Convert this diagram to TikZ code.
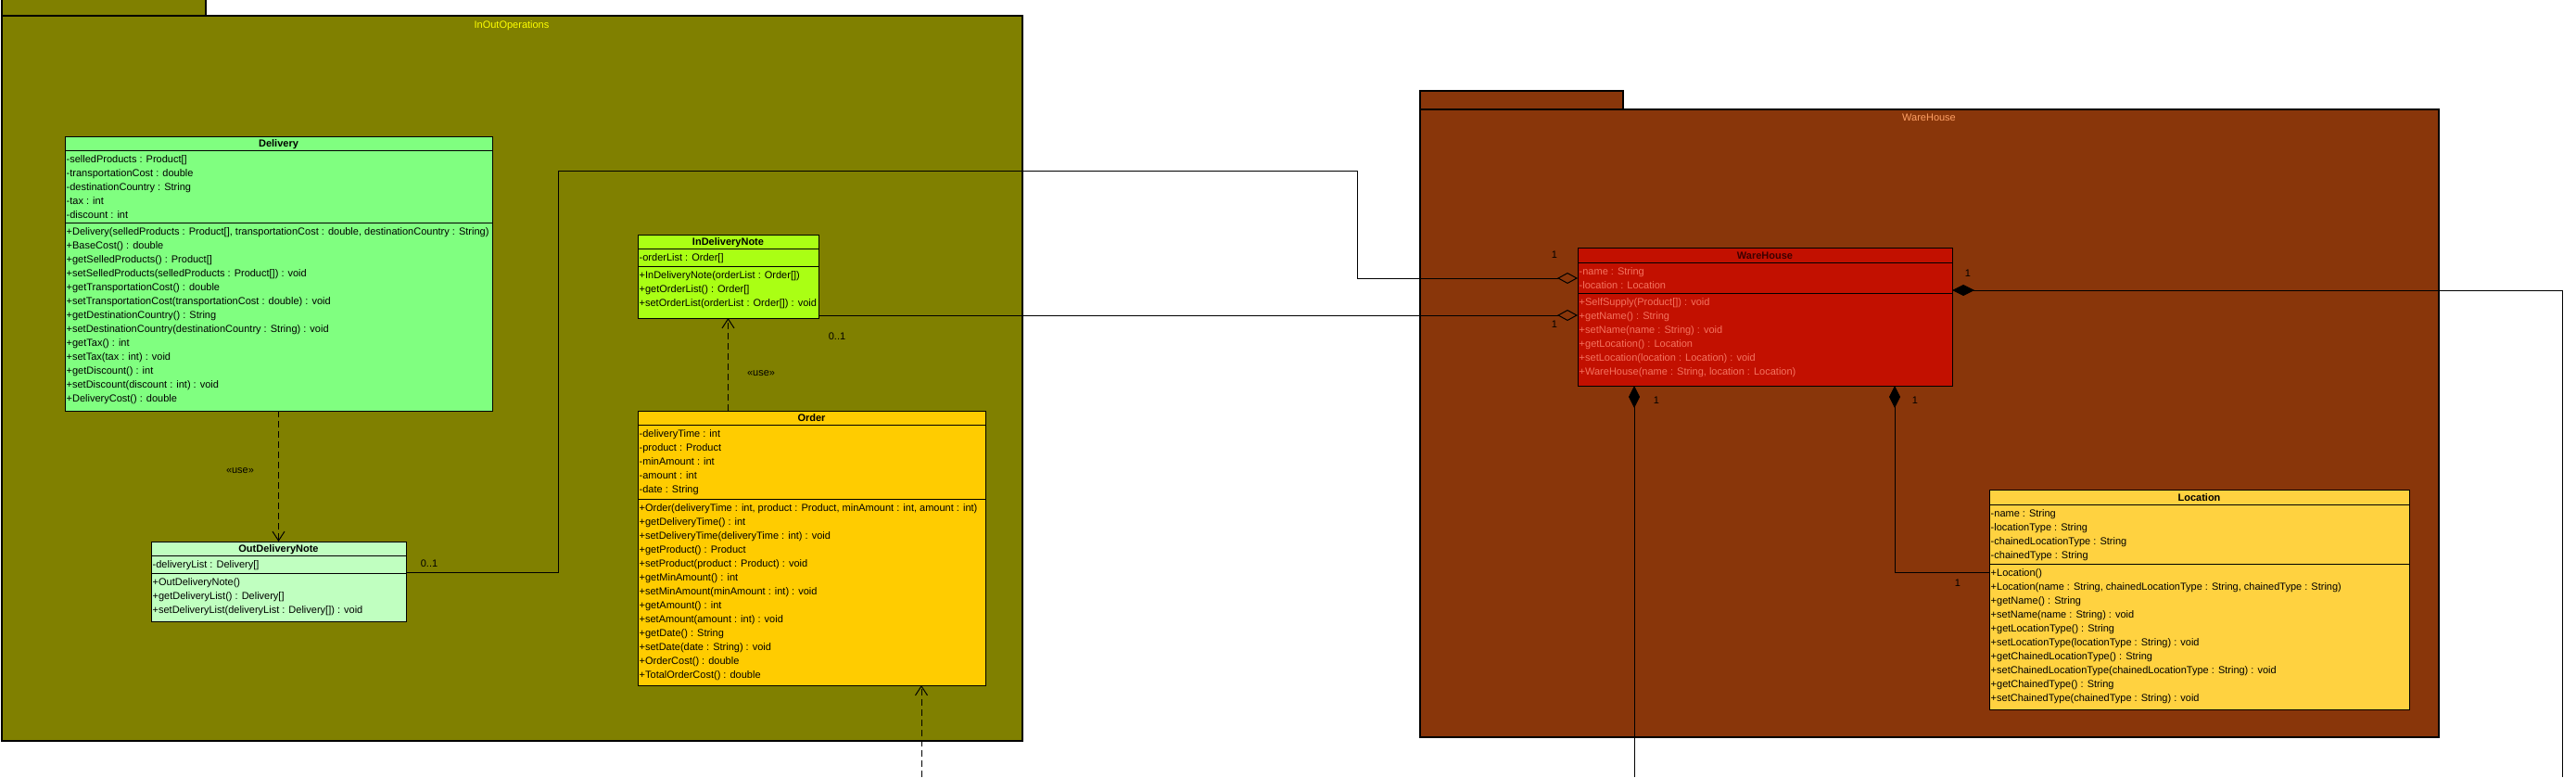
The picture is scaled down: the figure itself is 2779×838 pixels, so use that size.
\documentclass[tikz,border=0pt]{standalone}
\usepackage{fontspec}
\setmainfont{Liberation Sans}
\usetikzlibrary{arrows.meta}
\definecolor{olivepkg}{RGB}{128,128,0}
\definecolor{brownpkg}{RGB}{137,54,10}
\definecolor{inouttitle}{RGB}{255,255,0}
\definecolor{whtitle}{RGB}{255,160,100}
\definecolor{deliveryfill}{RGB}{128,255,128}
\definecolor{outnotefill}{RGB}{192,255,192}
\definecolor{innotefill}{RGB}{170,255,20}
\definecolor{orderfill}{RGB}{255,204,0}
\definecolor{whfill}{RGB}{194,16,0}
\definecolor{whtext}{RGB}{245,115,95}
\definecolor{whhead}{RGB}{60,0,0}
\definecolor{locfill}{RGB}{255,210,64}
\newcommand\umlrows[4]{\foreach \rowtxt [count=\i from 0] in {#4}{\node[rowtext,#1] at ({#2},{#3+15*\i}) {\rowtxt};}}
\newcommand\umlsep[2]{\draw[clsline] (#1.west |- 0,#2) -- (#1.east |- 0,#2);}
\begin{document}
\begin{tikzpicture}[x=1pt,y=-1pt,
  pkg/.style={draw=black,line width=1.5pt},
  pkgtitle/.style={anchor=base,inner sep=0pt,font=\fontsize{11}{13}\selectfont},
  clsbox/.style={draw=black,line width=1pt,inner sep=0pt,outer sep=0pt,anchor=north west},
  clsline/.style={draw=black,line width=1pt},
  clstitle/.style={anchor=base,inner sep=0pt,font=\fontsize{11}{13}\selectfont\bfseries},
  rowtext/.style={anchor=base west,inner sep=0pt,font=\fontsize{11}{13}\selectfont},
  lbl/.style={inner sep=0pt,font=\fontsize{11}{13}\selectfont},
  dep/.style={draw=black,line width=1pt,dash pattern=on 7pt off 4pt,-{Straight Barb[length=10pt,width=13pt]}},
  assoc/.style={draw=black,line width=1pt,-{Diamond[open,length=22pt,width=12pt]}},
  comp/.style={draw=black,line width=1pt,{Diamond[length=24pt,width=12pt]}-}
]
\useasboundingbox (0,0) rectangle (2779,838);
\clip (0,0) rectangle (2779,838);
\fill[white] (0,0) rectangle (2779,838);

% ---------- packages ----------
\filldraw[pkg,fill=olivepkg] (2,-5) rectangle (222,17);
\filldraw[pkg,fill=olivepkg] (2,17) rectangle (1103,799);
\node[pkgtitle,text=inouttitle] (inouttitle) at (552,30) {InOutOperations};

\filldraw[pkg,fill=brownpkg] (1532,98) rectangle (1751,118);
\filldraw[pkg,fill=brownpkg] (1532,118) rectangle (2631,795);
\node[pkgtitle,text=whtitle] (whtitletext) at (2081,130) {WareHouse};

% ---------- Delivery ----------
\node[clsbox,fill=deliveryfill,minimum width=461pt,minimum height=296pt] (delivery) at (70,147) {};
\umlsep{delivery}{162}\umlsep{delivery}{240}
\node[clstitle] at (300.5,158.5) {Delivery};
\umlrows{}{71.5}{175.5}{{-selledProducts : Product[]},{-transportationCost : double},{-destinationCountry : String},{-tax : int},{-discount : int}}
\umlrows{}{71.5}{253.5}{{+Delivery(selledProducts : Product[], transportationCost : double, destinationCountry : String)},{+BaseCost() : double},{+getSelledProducts() : Product[]},{+setSelledProducts(selledProducts : Product[]) : void},{+getTransportationCost() : double},{+setTransportationCost(transportationCost : double) : void},{+getDestinationCountry() : String},{+setDestinationCountry(destinationCountry : String) : void},{+getTax() : int},{+setTax(tax : int) : void},{+getDiscount() : int},{+setDiscount(discount : int) : void},{+DeliveryCost() : double}}

% ---------- OutDeliveryNote ----------
\node[clsbox,fill=outnotefill,minimum width=275pt,minimum height=86pt] (outnote) at (163,584) {};
\umlsep{outnote}{599}\umlsep{outnote}{618}
\node[clstitle] at (300.5,595.5) {OutDeliveryNote};
\umlrows{}{164.5}{612.5}{{-deliveryList : Delivery[]}}
\umlrows{}{164.5}{631.5}{{+OutDeliveryNote()},{+getDeliveryList() : Delivery[]},{+setDeliveryList(deliveryList : Delivery[]) : void}}

% ---------- InDeliveryNote ----------
\node[clsbox,fill=innotefill,minimum width=195pt,minimum height=90pt] (innote) at (688,253) {};
\umlsep{innote}{268}\umlsep{innote}{287}
\node[clstitle] at (785.5,264.5) {InDeliveryNote};
\umlrows{}{689.5}{281.5}{{-orderList : Order[]}}
\umlrows{}{689.5}{300.5}{{+InDeliveryNote(orderList : Order[])},{+getOrderList() : Order[]},{+setOrderList(orderList : Order[]) : void}}

% ---------- Order ----------
\node[clsbox,fill=orderfill,minimum width=375pt,minimum height=296pt] (order) at (688,443) {};
\umlsep{order}{458}\umlsep{order}{538}
\node[clstitle] at (875.5,454.5) {Order};
\umlrows{}{689.5}{471.5}{{-deliveryTime : int},{-product : Product},{-minAmount : int},{-amount : int},{-date : String}}
\umlrows{}{689.5}{551.5}{{+Order(deliveryTime : int, product : Product, minAmount : int, amount : int)},{+getDeliveryTime() : int},{+setDeliveryTime(deliveryTime : int) : void},{+getProduct() : Product},{+setProduct(product : Product) : void},{+getMinAmount() : int},{+setMinAmount(minAmount : int) : void},{+getAmount() : int},{+setAmount(amount : int) : void},{+getDate() : String},{+setDate(date : String) : void},{+OrderCost() : double},{+TotalOrderCost() : double}}

% ---------- WareHouse ----------
\node[clsbox,fill=whfill,minimum width=404pt,minimum height=149pt] (warehouse) at (1702,267) {};
\umlsep{warehouse}{283}\umlsep{warehouse}{316}
\node[clstitle,text=whhead] at (1904,279) {WareHouse};
\umlrows{text=whtext}{1703.5}{296.5}{{-name : String},{-location : Location}}
\umlrows{text=whtext}{1703.5}{329.5}{{+SelfSupply(Product[]) : void},{+getName() : String},{+setName(name : String) : void},{+getLocation() : Location},{+setLocation(location : Location) : void},{+WareHouse(name : String, location : Location)}}

% ---------- Location ----------
\node[clsbox,fill=locfill,minimum width=453pt,minimum height=237pt] (location) at (2146,528) {};
\umlsep{location}{544}\umlsep{location}{608}
\node[clstitle] at (2372.5,540) {Location};
\umlrows{}{2147.5}{557.5}{{-name : String},{-locationType : String},{-chainedLocationType : String},{-chainedType : String}}
\umlrows{}{2147.5}{621.5}{{+Location()},{+Location(name : String, chainedLocationType : String, chainedType : String)},{+getName() : String},{+setName(name : String) : void},{+getLocationType() : String},{+setLocationType(locationType : String) : void},{+getChainedLocationType() : String},{+setChainedLocationType(chainedLocationType : String) : void},{+getChainedType() : String},{+setChainedType(chainedType : String) : void}}

% ---------- connectors ----------
% Delivery uses OutDeliveryNote
\draw[dep] (delivery.south) -- (outnote.north);
\node[lbl] (use1) at (259,508) {<<use>>};
% Order uses InDeliveryNote
\draw[dep] (innote.south |- order.north) -- (innote.south);
\node[lbl] (use2) at (821,403) {<<use>>};
% dependency from below into Order
\coordinate (offD) at (994,838);
\draw[dep] (offD) -- (offD |- order.south);

% OutDeliveryNote -- WareHouse (aggregation)
\coordinate (outA) at ([yshift=-33pt]outnote.north east);
\coordinate (whA) at ([yshift=-33pt]warehouse.north west);
\draw[assoc] (outA) -- (602,617) -- (602,184) -- (1464,184) -- (1464,300) -- (whA);
\node[lbl] (m1) at (463,608) {0..1};
\node[lbl] (m2) at (1677,275) {1};

% InDeliveryNote -- WareHouse (aggregation)
\coordinate (inA) at ([yshift=3pt]innote.south east);
\coordinate (whB) at ([yshift=-73pt]warehouse.north west);
\draw[assoc] (inA) -- (whB);
\node[lbl] (m3) at (903,363) {0..1};
\node[lbl] (m4) at (1677,350) {1};

% WareHouse composition to the right, leaving the picture
\coordinate (whR) at ([yshift=-46pt]warehouse.north east);
\coordinate (offR) at (2764,838);
\draw[comp] (whR) -| (offR);
\node[lbl] (m5) at (2123,295) {1};

% WareHouse composition downward, leaving the picture
\coordinate (whC) at ([xshift=61pt]warehouse.south west);
\coordinate (offB) at (1763,838);
\draw[comp] (whC) -- (offB);
\node[lbl] (m6) at (1787,432) {1};

% WareHouse composition to Location
\coordinate (whD) at ([xshift=342pt]warehouse.south west);
\coordinate (locIn) at ([yshift=-89pt]location.north west);
\draw[comp] (whD) |- (locIn);
\node[lbl] (m7) at (2066,432) {1};
\node[lbl] (m8) at (2112,629) {1};
\end{tikzpicture}
\end{document}
